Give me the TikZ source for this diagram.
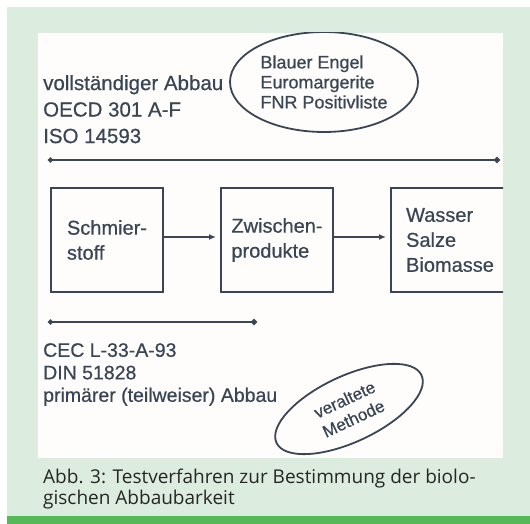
\documentclass[tikz,border=0pt]{standalone}
\usepackage{fontspec}
\setmainfont{Liberation Sans}[FakeBold=0.6]
\newfontfamily\capfont{Open Sans}
\usepackage{tikz}
\usetikzlibrary{arrows.meta,positioning,shapes.geometric}
\definecolor{panel}{HTML}{DCECDE}
\definecolor{bar}{HTML}{55B95A}
\definecolor{ink}{HTML}{3A4655}
\definecolor{paper}{HTML}{FEFDFB}

\begin{document}
\begin{tikzpicture}[
    x=1pt,y=-1pt,
    >={Latex[length=7pt,width=6pt]},
    node distance=58pt and 58pt,
    txt/.style={text=ink,align=left,inner sep=0pt,anchor=north west},
    stoff/.style={draw=ink,line width=1.9pt,minimum width=112pt,minimum height=104pt,
      outer sep=0pt,align=left,text=ink,inner sep=0pt,font=\fontsize{20}{25}\selectfont},
    oval/.style={draw=ink,line width=1.8pt,ellipse,inner sep=0pt,align=left,text=ink},
    meas/.style={{Circle[length=5pt]}-{Circle[length=6pt]},line width=2.2pt,draw=ink},
    flow/.style={->,line width=1.6pt,draw=ink,shorten >=5pt}]
  \useasboundingbox (0,0) rectangle (530,524);
  \fill[panel] (7,7) rectangle (530,524);
  \fill[bar] (7,516) rectangle (530,524);
  \fill[paper] (38,33) rectangle (503,458);
  \begin{scope}
    \clip (38,33) rectangle (503,458);
    % oben: vollstaendiger Abbau
    \node[txt,font=\fontsize{20.5}{26.5}\selectfont] (voll) at (43,75)
      {vollständiger Abbau\\OECD 301 A-F\\ISO 14593};
    \node[oval,minimum width=188pt,minimum height=100pt,
      font=\fontsize{18}{20}\selectfont] (siegel) at (324,82)
      {Blauer Engel\\Euromargerite\\FNR Positivliste};
    \coordinate (vollA) at (48,160);
    \coordinate (vollB) at (500,160);
    \draw[meas] (vollA) -- (vollB);
    % Abbaukette
    \node[stoff] (schmier) at (107,240) {Schmier-\\stoff};
    \node[stoff,right=of schmier] (zwischen) {Zwischen-\\produkte};
    \node[stoff,right=of zwischen,minimum width=118pt] (wasser) {Wasser\\Salze\\Biomasse};
    \draw[flow] ([yshift=3pt]schmier.east) -- ([yshift=3pt]zwischen.west);
    \draw[flow] ([yshift=3pt]zwischen.east) -- ([yshift=3pt]wasser.west);
    % unten: primaerer Abbau
    \coordinate (primA) at (48,322);
    \coordinate (primB) at (257,322);
    \draw[meas] (primA) -- (primB);
    \node[txt,font=\fontsize{19.5}{22.5}\selectfont] (prim) at (43,343)
      {CEC L-33-A-93\\DIN 51828\\primärer (teilweiser) Abbau};
    \node[oval,rotate=25,minimum width=160pt,minimum height=66pt,align=center,
      font=\fontsize{17}{21}\selectfont] (alt) at (349,409) {veraltete\\Methode};
  \end{scope}
  \node[anchor=north west,inner sep=0pt,align=left,text=black!85,
    font=\capfont\fontsize{19}{21}\selectfont] (caption) at (43,469)
    {Abb. 3: Testverfahren zur Bestimmung der biolo-\\gischen Abbaubarkeit};
\end{tikzpicture}
\end{document}
